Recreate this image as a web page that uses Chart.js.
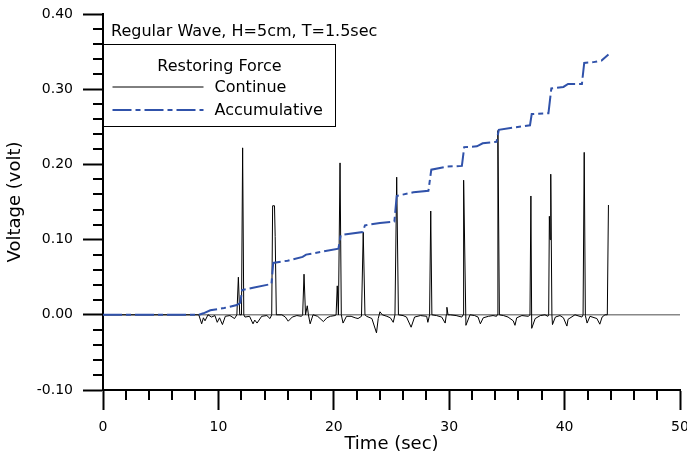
<!DOCTYPE html>
<html>
<head>
<meta charset="utf-8">
<title>Restoring Force</title>
<script src="https://cdn.jsdelivr.net/npm/chart.js@4.4.1/dist/chart.umd.min.js"></script>
<style>
  html, body { margin: 0; padding: 0; background: #fff; overflow: hidden; }
  canvas { display: block; }
</style>
</head>
<body>
<canvas id="c" width="687" height="460"></canvas>
<script>
// continue signal (time in sec, voltage in volt)
const contTime = [0, 8.3, 8.55, 8.7, 8.84, 9.1, 9.4, 9.7, 9.9, 10.1, 10.35, 10.6, 11.0, 11.4, 11.6, 11.73, 11.85, 12.0, 12.1, 12.2,
  12.3, 12.7, 13.0, 13.15, 13.35, 13.75, 14.2, 14.47, 14.62, 14.7, 14.86, 14.92, 15.02, 15.5, 15.8, 16.05, 16.4, 16.8, 17.2, 17.3,
  17.42, 17.55, 17.7, 17.8, 17.95, 18.2, 18.6, 19.1, 19.4, 19.7, 20.1, 20.2, 20.3, 20.4, 20.54, 20.65, 20.8, 21.1, 21.5, 21.85,
  22.1, 22.4, 22.55, 22.7, 22.85, 23.3, 23.7, 23.85, 24.0, 24.2, 24.6, 24.9, 25.15, 25.3, 25.45, 25.6, 26.0, 26.3, 26.7, 27.0,
  27.5, 28.05, 28.15, 28.3, 28.4, 28.5, 28.9, 29.35, 29.65, 29.75, 29.8, 29.9, 30.1, 30.6, 31.1, 31.2, 31.25, 31.45, 31.8, 32.2,
  32.5, 32.7, 32.95, 33.4, 33.8, 34.1, 34.15, 34.22, 34.35, 34.7, 35.1, 35.55, 35.7, 35.85, 36.3, 36.85, 37.0, 37.08, 37.15, 37.45,
  37.9, 38.3, 38.55, 38.62, 38.68, 38.74, 38.8, 38.9, 38.95, 39.2, 39.6, 39.9, 40.2, 40.3, 40.9, 41.5, 41.6, 41.7, 41.8, 41.95,
  42.2, 42.8, 43.05, 43.25, 43.5, 43.7, 43.8];
const contVolt = [0, 0, -0.012, -0.004, -0.008, 0, -0.003, -0.001, -0.010, -0.004, -0.013, -0.002, -0.001, -0.005, 0, 0.050, 0, 0, 0.222, 0,
  -0.003, -0.002, -0.012, -0.007, -0.011, -0.002, -0.001, -0.005, 0, 0.145, 0.145, 0.104, 0, 0, -0.003, -0.0085, -0.003, -0.001, -0.002, 0,
  0.054, 0, 0.012, 0, -0.012, 0, -0.002, -0.009, -0.004, -0.002, -0.001, 0, 0.0385, 0, 0.202, 0, -0.011, -0.002, -0.002, -0.004,
  -0.005, -0.002, 0.110, 0, -0.002, -0.005, -0.024, -0.005, 0.004, 0, -0.002, -0.004, -0.010, 0, 0.183, 0, -0.001, -0.003, -0.0165, -0.003,
  -0.001, -0.002, -0.010, 0, 0.138, 0, -0.001, -0.003, -0.011, 0, 0.010, 0, 0, -0.001, -0.003, 0, 0.179, -0.014, 0, -0.001,
  -0.003, -0.012, -0.004, -0.002, -0.001, -0.002, 0, 0.245, 0, -0.001, -0.003, -0.008, -0.014, -0.004, -0.001, -0.002, 0, 0.158, -0.018, -0.005,
  -0.001, 0, -0.002, 0, 0.131, 0.100, 0.187, 0, -0.013, -0.003, -0.001, -0.004, -0.015, -0.006, 0, -0.003, 0, 0.216, -0.001, -0.011,
  -0.002, -0.005, -0.0125, -0.003, 0, 0, 0.146];

// accumulative signal
const accTime = [0, 8.3, 8.7, 9.3, 10.5, 11.6, 11.9, 12.05, 13.0, 14.6, 14.75, 16.0, 17.3, 17.6, 19.0, 20.4, 20.6, 22.5, 22.7, 24.0,
  25.25, 25.45, 26.9, 28.2, 28.45, 29.8, 31.1, 31.3, 32.4, 32.9, 34.1, 34.3, 35.6, 37.0, 37.15, 38.6, 38.85, 39.9, 40.3, 41.5,
  41.7, 42.5, 43.2, 43.8];
const accVolt = [0, 0, 0.002, 0.006, 0.009, 0.013, 0.016, 0.033, 0.036, 0.041, 0.069, 0.072, 0.077, 0.080, 0.084, 0.088, 0.106, 0.110, 0.119, 0.122,
  0.124, 0.158, 0.163, 0.165, 0.193, 0.197, 0.198, 0.223, 0.224, 0.228, 0.230, 0.246, 0.249, 0.252, 0.267, 0.268, 0.301, 0.303, 0.307, 0.307,
  0.335, 0.336, 0.338, 0.346];

const zeroTime = [0, 50];
const zeroVolt = [0, 0];

const xTicks = [0, 10, 20, 30, 40, 50];
const yTicks = [-0.10, 0.00, 0.10, 0.20, 0.30, 0.40];

const legendTitle = 'Restoring Force';
const noteText = 'Regular Wave, H=5cm, T=1.5sec';

const FONT = 'DejaVu Sans';

function pts(xs, ys) {
  return xs.map((x, i) => ({x: x, y: ys[i]}));
}

function isMajorX(v) { return xTicks.some(t => Math.abs(t - v) < 1e-6); }
function isMajorY(v) { return yTicks.some(t => Math.abs(t - v) < 1e-6); }

const minorTicks = {
  id: 'minorTicks',
  afterDraw(chart) {
    const ctx = chart.ctx;
    const xs = chart.scales.x, ys = chart.scales.y;
    ctx.save();
    ctx.strokeStyle = '#000';
    ctx.lineWidth = 2;
    ctx.beginPath();
    xs.ticks.forEach(t => {
      if (isMajorX(t.value)) return;
      const px = Math.round(xs.getPixelForValue(t.value));
      ctx.moveTo(px, xs.top);
      ctx.lineTo(px, xs.top + 10);
    });
    ys.ticks.forEach(t => {
      if (isMajorY(t.value)) return;
      const py = Math.round(ys.getPixelForValue(t.value));
      ctx.moveTo(ys.right - 10, py);
      ctx.lineTo(ys.right, py);
    });
    ctx.stroke();
    ctx.restore();
  }
};

const legendBox = {
  id: 'legendBox',
  afterDraw(chart) {
    const ctx = chart.ctx;
    const area = chart.chartArea;
    const sets = chart.data.datasets.filter(d => d.label);
    ctx.save();
    // note above the box
    ctx.fillStyle = '#000';
    ctx.font = '16px "' + FONT + '"';
    ctx.textBaseline = 'middle';
    ctx.textAlign = 'left';
    ctx.fillText(noteText, area.left + 8, 32);

    const bx = area.left + 0.5, by = 44.5, bw = 232, bh = 82;
    ctx.fillStyle = '#fff';
    ctx.fillRect(bx, by, bw, bh);
    ctx.strokeStyle = '#000';
    ctx.lineWidth = 1;
    ctx.strokeRect(bx, by, bw, bh);

    ctx.fillStyle = '#000';
    ctx.textAlign = 'center';
    ctx.fillText(legendTitle, bx + 116, by + 22);

    sets.forEach((d, i) => {
      const y = by + 42.5 + i * 23;
      ctx.beginPath();
      ctx.strokeStyle = d.borderColor;
      ctx.lineWidth = d.borderWidth;
      ctx.setLineDash(d.borderDash || []);
      ctx.moveTo(bx + 9, y);
      ctx.lineTo(bx + 100, y);
      ctx.stroke();
      ctx.setLineDash([]);
      ctx.fillStyle = '#000';
      ctx.textAlign = 'left';
      ctx.fillText(d.label, bx + 111, y + 0.5);
    });
    ctx.restore();
  }
};

new Chart(document.getElementById('c'), {
  type: 'line',
  data: {
    datasets: [
      {
        label: 'Continue',
        data: pts(contTime, contVolt),
        borderColor: '#000',
        borderWidth: 1,
        pointRadius: 0,
        tension: 0,
        order: 1
      },
      {
        label: 'Accumulative',
        data: pts(accTime, accVolt),
        borderColor: 'rgb(48,82,170)',
        borderWidth: 2,
        borderDash: [19, 4, 5, 4],
        pointRadius: 0,
        tension: 0,
        order: 0
      },
      {
        data: pts(zeroTime, zeroVolt),
        borderColor: '#888',
        borderWidth: 1.5,
        pointRadius: 0,
        order: 2
      }
    ]
  },
  options: {
    responsive: false,
    animation: false,
    devicePixelRatio: 1,
    layout: {padding: {top: 14, right: 7, bottom: 0, left: 0}},
    plugins: {legend: {display: false}, tooltip: {enabled: false}},
    scales: {
      x: {
        type: 'linear',
        min: 0,
        max: 50,
        ticks: {
          stepSize: 2,
          autoSkip: false,
          maxRotation: 0,
          padding: 9,
          color: '#000',
          font: {family: FONT, size: 14},
          callback: v => isMajorX(v) ? String(Math.round(v)) : ''
        },
        grid: {
          drawOnChartArea: false,
          tickLength: 20,
          tickWidth: 2,
          tickColor: ctx => (ctx.tick && isMajorX(ctx.tick.value)) ? '#000' : 'rgba(0,0,0,0)'
        },
        border: {color: '#000', width: 2},
        title: {
          display: true,
          text: 'Time (sec)',
          color: '#000',
          font: {family: FONT, size: 18},
          padding: {top: 0, bottom: 5}
        },
        afterFit: s => { s.height = 70; s.paddingLeft = 0; s.paddingRight = 0; }
      },
      y: {
        min: -0.1,
        max: 0.4,
        ticks: {
          stepSize: 0.02,
          autoSkip: false,
          padding: 10,
          color: '#000',
          font: {family: FONT, size: 14},
          callback: v => isMajorY(v) ? v.toFixed(2) : ''
        },
        grid: {
          drawOnChartArea: false,
          tickLength: 20,
          tickWidth: 2,
          tickColor: ctx => (ctx.tick && isMajorY(ctx.tick.value)) ? '#000' : 'rgba(0,0,0,0)'
        },
        border: {color: '#000', width: 2},
        title: {
          display: true,
          text: 'Voltage (volt)',
          color: '#000',
          font: {family: FONT, size: 18},
          padding: {top: 5, bottom: 0}
        },
        afterFit: s => { s.width = 103; s.paddingTop = 0; s.paddingBottom = 0; }
      }
    }
  },
  plugins: [minorTicks, legendBox]
});
</script>
</body>
</html>
